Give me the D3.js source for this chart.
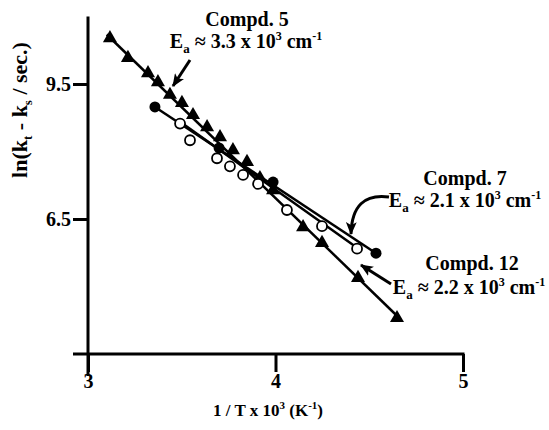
<!DOCTYPE html>
<html>
<head>
<meta charset="utf-8">
<script src="https://cdn.jsdelivr.net/npm/d3@7"></script>
<style>
  body { margin: 0; background: #fff; }
  text { font-family: "Liberation Serif", "Times New Roman", serif; font-weight: bold; fill: #000; }
</style>
</head>
<body>
<script>
// data (x = 1/T x 10^3, y = ln(kt - ks))
var triX = [3.117, 3.213, 3.32, 3.373, 3.437, 3.501, 3.56, 3.635, 3.704, 3.773, 3.848, 3.917, 3.987, 4.147, 4.248, 4.44, 4.648];
var triY = [10.52, 10.08, 9.74, 9.54, 9.26, 9.08, 8.81, 8.54, 8.32, 8.03, 7.77, 7.41, 7.14, 6.32, 5.97, 5.19, 4.30];

var filledX = [3.357, 3.699, 3.987, 4.536];
var filledY = [8.99, 8.08, 7.32, 5.74];

var openX = [3.491, 3.544, 3.688, 3.757, 3.827, 3.907, 4.061, 4.248, 4.435];
var openY = [8.62, 8.25, 7.85, 7.67, 7.48, 7.28, 6.70, 6.34, 5.84];

// fitted lines, endpoints
var fit5 = [[3.10, 10.6], [4.66, 4.30]];
var fit7 = [[3.357, 8.99], [4.536, 5.74]];
var fit12 = [[3.491, 8.66], [4.435, 5.86]];

var xTicks = [3, 4, 5];
var yTicks = [6.5, 9.5];

var width = 549, height = 430;

var svg = d3.select("body")
    .append("svg")
    .attr("width", width)
    .attr("height", height);

var x = d3.scaleLinear().domain([3, 5]).range([88, 463]);
var y = d3.scaleLinear().domain([3.5, 11]).range([354, 16.5]);

// y axis
var yAxis = svg.append("g")
    .attr("transform", "translate(" + x(3) + ",0)")
    .call(d3.axisLeft(y).tickValues(yTicks).tickSize(15).tickPadding(2).tickFormat(d3.format(".1f")));
yAxis.select(".domain").remove();
yAxis.selectAll("line").attr("stroke-width", 3);
yAxis.selectAll("text").style("font-size", "20px").attr("fill", "#000");

// x axis
var xAxis = svg.append("g")
    .attr("transform", "translate(0," + y(3.5) + ")")
    .call(d3.axisBottom(x).tickValues(xTicks).tickSize(18).tickPadding(2).tickFormat(d3.format("d")));
xAxis.select(".domain").remove();
xAxis.selectAll("line").attr("stroke-width", 3);
xAxis.selectAll("text").style("font-size", "20px").attr("fill", "#000");

// axis lines
svg.append("line")
    .attr("x1", x(3)).attr("x2", x(3))
    .attr("y1", y(11)).attr("y2", y(3.5) + 22)
    .attr("stroke", "#000").attr("stroke-width", 3);
svg.append("line")
    .attr("x1", x(3) - 15).attr("x2", x(5) + 1.5)
    .attr("y1", y(3.5)).attr("y2", y(3.5))
    .attr("stroke", "#000").attr("stroke-width", 3);

// axis titles
svg.append("text")
    .attr("x", 268).attr("y", 416)
    .attr("text-anchor", "middle")
    .style("font-size", "17px")
    .call(function(t) {
        t.append("tspan").text("1 / T x 10");
        t.append("tspan").attr("dy", -7).style("font-size", "11px").text("3");
        t.append("tspan").attr("dy", 7).text(" (K");
        t.append("tspan").attr("dy", -7).style("font-size", "11px").text("-1");
        t.append("tspan").attr("dy", 7).text(")");
    });

svg.append("text")
    .attr("transform", "translate(27,110) rotate(-90)")
    .attr("text-anchor", "middle")
    .style("font-size", "22px")
    .call(function(t) {
        t.append("tspan").text("ln(k");
        t.append("tspan").attr("dy", 5).style("font-size", "13px").text("t");
        t.append("tspan").attr("dy", -5).text(" - k");
        t.append("tspan").attr("dy", 5).style("font-size", "13px").text("s");
        t.append("tspan").attr("dy", -5).text(" / sec.)");
    });

// fitted lines
var line = d3.line().x(function(d){ return x(d[0]); }).y(function(d){ return y(d[1]); });
[fit5, fit7, fit12].forEach(function(f) {
    svg.append("path")
        .attr("d", line(f))
        .attr("fill", "none")
        .attr("stroke", "#000")
        .attr("stroke-width", 2.5);
});

// markers
var tri = d3.symbol().type(d3.symbolTriangle).size(85);
svg.append("g").selectAll("path")
    .data(d3.range(triX.length))
    .enter()
    .append("path")
    .attr("d", tri)
    .attr("transform", function(i){ return "translate(" + x(triX[i]) + "," + y(triY[i]) + ")"; })
    .attr("fill", "#000");

svg.append("g").selectAll("circle")
    .data(d3.range(openX.length))
    .enter()
    .append("circle")
    .attr("cx", function(i){ return x(openX[i]); })
    .attr("cy", function(i){ return y(openY[i]); })
    .attr("r", 5)
    .attr("fill", "#fff")
    .attr("stroke", "#000")
    .attr("stroke-width", 1.8);

svg.append("g").selectAll("circle")
    .data(d3.range(filledX.length))
    .enter()
    .append("circle")
    .attr("cx", function(i){ return x(filledX[i]); })
    .attr("cy", function(i){ return y(filledY[i]); })
    .attr("r", 5.5)
    .attr("fill", "#000");

// arrows
svg.append("defs").append("marker")
    .attr("id", "head")
    .attr("viewBox", "0 0 12 10")
    .attr("refX", 11).attr("refY", 5)
    .attr("markerWidth", 13).attr("markerHeight", 11)
    .attr("markerUnits", "userSpaceOnUse")
    .attr("orient", "auto")
    .append("path")
    .attr("d", "M0,0 L12,5 L0,10 L3,5 Z")
    .attr("fill", "#000");

var arrows = ["M190,60 L173,86", "M389,197 Q352,192 351,234", "M391,284 L361,265"];
arrows.forEach(function(a) {
    svg.append("path")
        .attr("d", a)
        .attr("fill", "none")
        .attr("stroke", "#000")
        .attr("stroke-width", 3)
        .attr("marker-end", "url(#head)");
});

// annotations
function ea(sel, val) {
    sel.append("tspan").text("E");
    sel.append("tspan").attr("dy", 5).style("font-size", "13px").text("a");
    sel.append("tspan").attr("dy", -5).text(" \u2248 " + val + " x 10");
    sel.append("tspan").attr("dy", -8).style("font-size", "12px").text("3");
    sel.append("tspan").attr("dy", 8).text(" cm");
    sel.append("tspan").attr("dy", -8).style("font-size", "12px").text("-1");
}

var notes = [
    {name: "Compd. 5", ea: "3.3", cx: 247, y1: 26, cx2: 246, y2: 48},
    {name: "Compd. 7", ea: "2.1", cx: 465, y1: 185, cx2: 465, y2: 207},
    {name: "Compd. 12", ea: "2.2", cx: 472, y1: 270, cx2: 469, y2: 294}
];
notes.forEach(function(n) {
    svg.append("text")
        .attr("x", n.cx).attr("y", n.y1)
        .attr("text-anchor", "middle")
        .style("font-size", "20px")
        .text(n.name);
    svg.append("text")
        .attr("x", n.cx2).attr("y", n.y2)
        .attr("text-anchor", "middle")
        .style("font-size", "20px")
        .call(ea, n.ea);
});
</script>
</body>
</html>
